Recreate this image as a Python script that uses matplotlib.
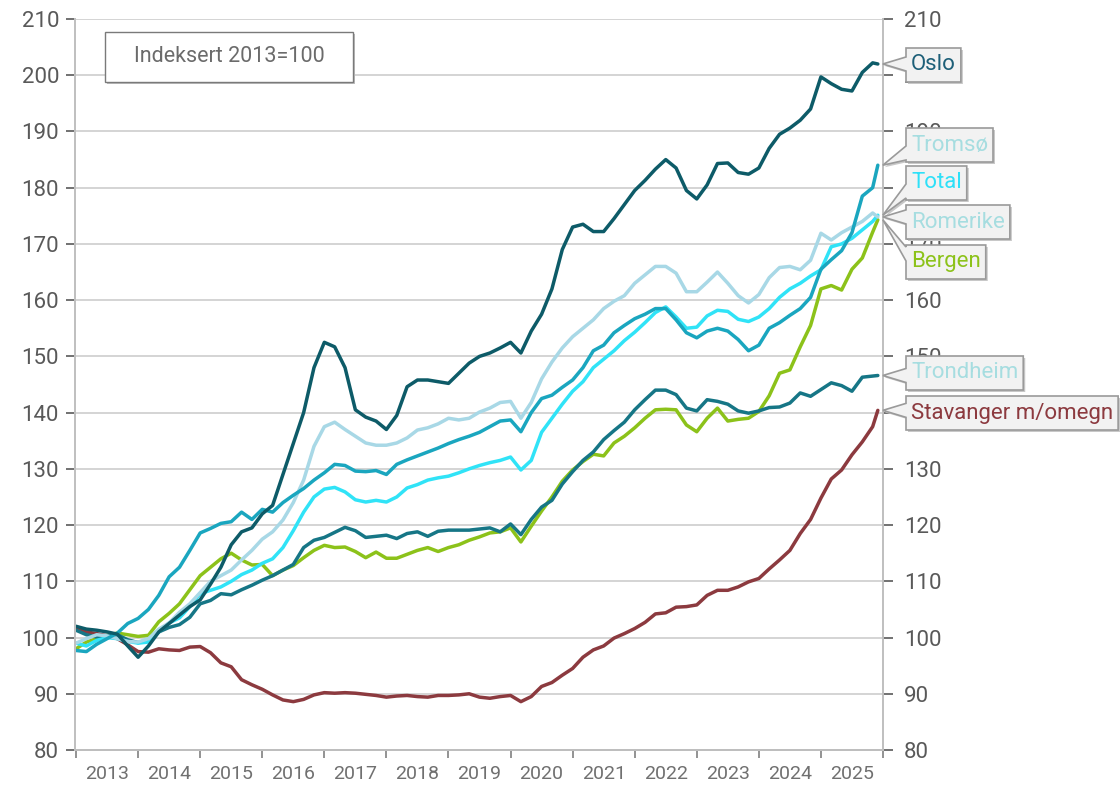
import numpy as np
import matplotlib
matplotlib.use('Agg')
from matplotlib import pyplot as plt
from matplotlib.patches import Polygon, Rectangle

plt.rcParams['font.family'] = ['Roboto', 'DejaVu Sans']

W, H = 1120, 788

# month index, 0 = jan 2013 (one reading every second month + last one)
months = list(range(0, 156, 2)) + [155]
years = [str(y) for y in range(2013, 2026)]

oslo = [102, 101.5, 101.3, 101, 100.6, 98.5, 96.5, 98.5, 101, 102.5,
        104, 105.5, 106.7, 109.5, 112.5, 116.5, 118.8, 119.5, 122, 123.5,
        129, 134.5, 140, 148, 152.5, 151.7, 148, 140.5, 139.2, 138.5,
        137, 139.5, 144.6, 145.8, 145.8, 145.5, 145.2, 147, 148.8, 150,
        150.6, 151.5, 152.5, 150.6, 154.5, 157.5, 162, 169, 173, 173.5,
        172.2, 172.2, 174.5, 177, 179.5, 181.3, 183.3, 185, 183.5, 179.5,
        178, 180.5, 184.3, 184.4, 182.7, 182.4, 183.5, 187, 189.5, 190.6,
        192, 194, 199.7, 198.5, 197.5, 197.2, 200.5, 202.2, 202]
tromso = [97.7, 97.5, 98.8, 99.8, 100.8, 102.5, 103.4, 105, 107.5, 110.8,
          112.5, 115.5, 118.6, 119.4, 120.3, 120.6, 122.3, 121, 122.8, 122.3,
          124, 125.3, 126.5, 128, 129.3, 130.8, 130.6, 129.6, 129.5, 129.7,
          129, 130.8, 131.6, 132.3, 133, 133.7, 134.5, 135.2, 135.8, 136.5,
          137.5, 138.5, 138.7, 136.6, 140, 142.5, 143.1, 144.5, 145.8, 148,
          151, 152, 154.2, 155.5, 156.7, 157.5, 158.5, 158.5, 156.5, 154.2,
          153.3, 154.5, 155, 154.5, 153, 151, 152, 155, 156, 157.3,
          158.5, 160.5, 165.5, 167.2, 168.8, 172, 178.5, 180, 184]
romerike = [99, 99.8, 100.5, 100.3, 99.8, 99.3, 99.2, 99.8, 101.5, 102.6,
            104.5, 106, 108, 110, 111, 112, 113.8, 115.5, 117.5, 118.8,
            120.9, 124, 128, 134, 137.5, 138.3, 137, 135.8, 134.6, 134.2,
            134.2, 134.6, 135.5, 136.9, 137.3, 138, 139, 138.7, 139, 140.1,
            140.8, 141.8, 142, 139, 141.8, 146, 149, 151.5, 153.5, 155,
            156.5, 158.5, 159.8, 160.8, 163, 164.5, 166, 166, 164.8, 161.5,
            161.5, 163.2, 165, 163, 160.8, 159.5, 161, 164, 165.8, 166,
            165.4, 167.1, 171.9, 170.7, 172, 173, 174, 175.5, 174.8]
total = [99, 98.5, 99.5, 100, 99.8, 99.3, 99, 99.2, 101, 102.6,
         103.5, 105.5, 107.8, 108.4, 109, 110, 111.2, 112, 113.2, 114,
         116, 119, 122.3, 125, 126.4, 126.7, 125.9, 124.5, 124.1, 124.4,
         124.1, 125, 126.6, 127.2, 128, 128.4, 128.7, 129.3, 130, 130.6,
         131.1, 131.5, 132.1, 129.8, 131.5, 136.5, 139, 141.5, 143.8, 145.5,
         148, 149.5, 151, 152.8, 154.3, 156, 157.8, 158.8, 157, 155,
         155.2, 157.2, 158.2, 158, 156.6, 156.2, 157, 158.5, 160.5, 162,
         163, 164.3, 165.4, 169.5, 170, 171, 172.5, 174, 175.1]
bergen = [98, 99.2, 99.8, 100.4, 100.8, 100.5, 100.2, 100.4, 102.8, 104.3,
          106, 108.5, 111, 112.5, 114, 115, 113.8, 112.9, 113, 111,
          112, 112.8, 114.2, 115.5, 116.4, 116, 116.1, 115.3, 114.2, 115.2,
          114.1, 114.1, 114.8, 115.5, 116, 115.3, 116, 116.5, 117.3, 117.9,
          118.6, 118.8, 119.5, 117, 119.8, 122.5, 125, 127.8, 129.8, 131.3,
          132.6, 132.3, 134.6, 135.8, 137.3, 139, 140.5, 140.6, 140.5, 137.8,
          136.6, 139, 140.8, 138.5, 138.8, 139, 140.2, 143, 147, 147.6,
          151.7, 155.5, 162, 162.6, 161.8, 165.5, 167.5, 172.1, 174.3]
trondheim = [101.3, 100.5, 100.1, 100.3, 100.5, 99.6, 99.1, 99.5, 101, 101.8,
             102.3, 103.6, 106, 106.6, 107.8, 107.6, 108.5, 109.3, 110.2, 111,
             112, 113, 116, 117.3, 117.8, 118.7, 119.6, 119, 117.8, 118,
             118.2, 117.6, 118.5, 118.8, 118, 118.9, 119.1, 119.1, 119.1, 119.3,
             119.5, 118.8, 120.2, 118.3, 121, 123.2, 124.4, 127.3, 129.5, 131.5,
             133, 135.2, 136.8, 138.3, 140.5, 142.3, 144, 144, 143.2, 140.8,
             140.3, 142.3, 142, 141.5, 140.3, 139.9, 140.3, 140.9, 141, 141.7,
             143.5, 142.9, 144.1, 145.3, 144.8, 143.8, 146.3, 146.5, 146.6]
stavanger = [101.5, 101, 100.7, 100.3, 99.8, 98.7, 97.5, 97.4, 98, 97.8,
             97.7, 98.3, 98.4, 97.3, 95.5, 94.8, 92.5, 91.6, 90.8, 89.8,
             88.9, 88.6, 89, 89.8, 90.2, 90.1, 90.2, 90.1, 89.9, 89.7,
             89.4, 89.6, 89.7, 89.5, 89.4, 89.7, 89.7, 89.8, 90, 89.4,
             89.2, 89.5, 89.7, 88.6, 89.5, 91.3, 92, 93.3, 94.5, 96.5,
             97.8, 98.5, 99.9, 100.7, 101.6, 102.7, 104.2, 104.4, 105.4, 105.5,
             105.8, 107.5, 108.4, 108.4, 109, 109.9, 110.5, 112.2, 113.8, 115.5,
             118.5, 121, 124.8, 128.2, 129.8, 132.5, 134.8, 137.5, 140.4]

# name, values, line colour, label text colour, label centre (px from top)
series = [
    ('Stavanger m/omegn', stavanger, '#8c3a3f', '#8c3a3f', 413),
    ('Bergen', bergen, '#8cc21a', '#8cc21a', 262),
    ('Trondheim', trondheim, '#167686', '#a6dde0', 373),
    ('Total', total, '#30e3f7', '#2ee0f8', 183),
    ('Romerike', romerike, '#a8d8e6', '#a6dde0', 222),
    ('Tromsø', tromso, '#1aa6bf', '#a6dde0', 145),
    ('Oslo', oslo, '#0d5b68', '#1d5f78', 65),
]

fig = plt.figure(figsize=(W / 100, H / 100), dpi=100)
ax = fig.add_axes([75 / W, 38 / H, 808 / W, 731 / H])

for name, vals, col, tcol, ly in series:
    ax.plot(months, vals, color=col, lw=2.5, solid_joinstyle='round', solid_capstyle='round')

ax.set_xlim(-0.2, 156)
ax.set_ylim(80, 210)
ax.set_yticks(range(80, 211, 10))
ax.yaxis.grid(True, color='#d4d4d4', lw=1.4)
ax.set_axisbelow(True)
ax.set_xticks(np.arange(0, 157, 12))
ax.set_xticklabels([])
ax.set_xticks(np.arange(6, 156, 12), minor=True)
ax.set_xticklabels(years, minor=True, family=['Liberation Sans Narrow', 'Roboto'],
                   fontsize=14, color='#707070')
ax.tick_params(axis='x', which='major', direction='out', length=6, width=1.2, color='#808080')
ax.tick_params(axis='x', which='minor', length=0, pad=11)
ax.tick_params(axis='y', direction='out', length=6.5, width=1.2, color='#595959',
               labelsize=16, labelcolor='#595959', pad=5)

ax2 = ax.twinx()
ax2.set_ylim(80, 210)
ax2.set_yticks(range(80, 211, 10))
ax2.tick_params(axis='y', direction='out', length=7, width=1.2, color='#595959',
                labelsize=16, labelcolor='#595959', pad=8)
for a in (ax, ax2):
    a.spines['top'].set_visible(False)
    for s in ('left', 'right', 'bottom'):
        a.spines[s].set_color('#c0c0c0')
        a.spines[s].set_linewidth(1.4)
ax.spines['bottom'].set_color('#909090')


def fig_xy(px, py):
    return px / W, (H - py) / H


# "Indeksert" box
fig.add_artist(Rectangle(fig_xy(107, 84), 248 / W, 50 / H, transform=fig.transFigure,
                         fc='#bdbdbd', ec='none', zorder=4))
fig.add_artist(Rectangle(fig_xy(105, 82), 248 / W, 50 / H, transform=fig.transFigure,
                         fc='white', ec='#7a7a7a', lw=1.0, zorder=5))
fig.text(*fig_xy(229, 57), 'Indeksert 2013=100', ha='center', va='center',
         fontsize=15.5, color='#6b6b6b', zorder=6)

# callout labels at the line ends
labels = []
for name, vals, col, tcol, ly in series:
    t = fig.text(*fig_xy(911, ly), name, ha='left', va='center', fontsize=16,
                 color=tcol, zorder=8)
    labels.append((t, vals, ly))

fig.canvas.draw()
rend = fig.canvas.get_renderer()
for t, vals, ly in labels:
    bb = t.get_window_extent(rend)
    tx, ty = ax.transData.transform((months[-1], vals[-1]))
    ty = H - ty
    tipx = tx + 5
    left, right = 906, 906 + bb.width + 10
    top, bot = ly - 17, ly + 17
    c = min(max(ty, top + 9), bot - 9)
    pts = [(left, top), (right, top), (right, bot), (left, bot),
           (left, c + 7), (tipx, ty), (left, c - 7)]
    shadow = [fig_xy(x + 2, y + 2) for x, y in pts]
    fig.add_artist(Polygon(shadow, closed=True, transform=fig.transFigure,
                           fc='#c8c8c8', ec='none', zorder=6))
    fig.add_artist(Polygon([fig_xy(x, y) for x, y in pts], closed=True,
                           transform=fig.transFigure, fc='#f2f2f2', ec='#9a9a9a',
                           lw=1.2, zorder=7))

plt.savefig('out.png', dpi=100)
